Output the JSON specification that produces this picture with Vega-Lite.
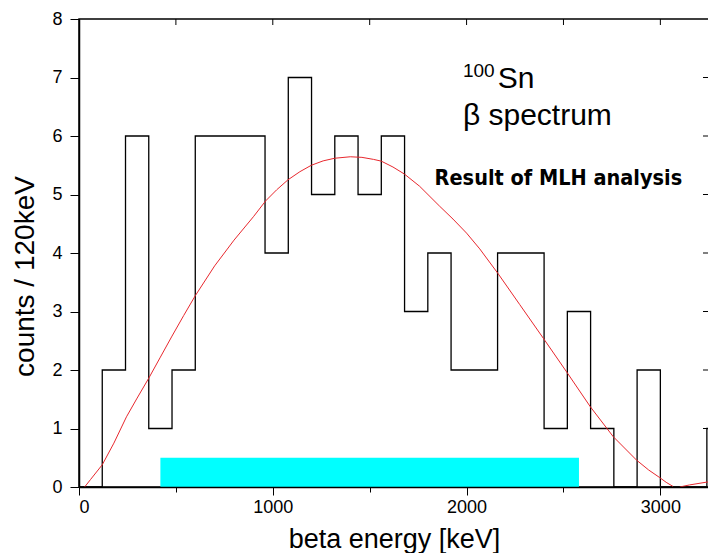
{
  "$schema": "https://vega.github.io/schema/vega-lite/v6.json",
  "width": 630,
  "height": 468,
  "autosize": {"type": "none"},
  "padding": {"left": 79, "top": 19, "right": 0, "bottom": 66},
  "background": "white",
  "config": {"view": {"stroke": "black", "strokeWidth": 1.5}, "font": "Liberation Sans"},
  "datasets": {
    "hist": [
      {"energy": 0, "counts": 0}, {"energy": 120, "counts": 2}, {"energy": 240, "counts": 6},
      {"energy": 360, "counts": 1}, {"energy": 480, "counts": 2}, {"energy": 600, "counts": 6},
      {"energy": 720, "counts": 6}, {"energy": 840, "counts": 6}, {"energy": 960, "counts": 4},
      {"energy": 1080, "counts": 7}, {"energy": 1200, "counts": 5}, {"energy": 1320, "counts": 6},
      {"energy": 1440, "counts": 5}, {"energy": 1560, "counts": 6}, {"energy": 1680, "counts": 3},
      {"energy": 1800, "counts": 4}, {"energy": 1920, "counts": 2}, {"energy": 2040, "counts": 2},
      {"energy": 2160, "counts": 4}, {"energy": 2280, "counts": 4}, {"energy": 2400, "counts": 1},
      {"energy": 2520, "counts": 3}, {"energy": 2640, "counts": 1}, {"energy": 2760, "counts": 0},
      {"energy": 2880, "counts": 2}, {"energy": 3000, "counts": 0}, {"energy": 3120, "counts": 0},
      {"energy": 3240, "counts": 1}, {"energy": 3360, "counts": 1}
    ],
    "fit": [
      {"energy": 29, "counts": 0, "seg": "a"}, {"energy": 60, "counts": 0.13, "seg": "a"},
      {"energy": 120, "counts": 0.38, "seg": "a"}, {"energy": 180, "counts": 0.75, "seg": "a"},
      {"energy": 245, "counts": 1.2, "seg": "a"}, {"energy": 300, "counts": 1.52, "seg": "a"},
      {"energy": 360, "counts": 1.86, "seg": "a"}, {"energy": 420, "counts": 2.22, "seg": "a"},
      {"energy": 480, "counts": 2.58, "seg": "a"}, {"energy": 540, "counts": 2.93, "seg": "a"},
      {"energy": 600, "counts": 3.27, "seg": "a"}, {"energy": 700, "counts": 3.78, "seg": "a"},
      {"energy": 800, "counts": 4.22, "seg": "a"}, {"energy": 900, "counts": 4.62, "seg": "a"},
      {"energy": 963, "counts": 4.89, "seg": "a"}, {"energy": 1020, "counts": 5.08, "seg": "a"},
      {"energy": 1078, "counts": 5.25, "seg": "a"}, {"energy": 1140, "counts": 5.39, "seg": "a"},
      {"energy": 1199, "counts": 5.5, "seg": "a"}, {"energy": 1260, "counts": 5.575, "seg": "a"},
      {"energy": 1320, "counts": 5.62, "seg": "a"}, {"energy": 1400, "counts": 5.645, "seg": "a"},
      {"energy": 1460, "counts": 5.635, "seg": "a"}, {"energy": 1520, "counts": 5.6, "seg": "a"},
      {"energy": 1560, "counts": 5.57, "seg": "a"}, {"energy": 1620, "counts": 5.47, "seg": "a"},
      {"energy": 1679, "counts": 5.35, "seg": "a"}, {"energy": 1758, "counts": 5.14, "seg": "a"},
      {"energy": 1861, "counts": 4.8, "seg": "a"}, {"energy": 1930, "counts": 4.58, "seg": "a"},
      {"energy": 2000, "counts": 4.34, "seg": "a"}, {"energy": 2068, "counts": 4.07, "seg": "a"},
      {"energy": 2162, "counts": 3.65, "seg": "a"}, {"energy": 2274, "counts": 3.12, "seg": "a"},
      {"energy": 2403, "counts": 2.51, "seg": "a"}, {"energy": 2520, "counts": 1.95, "seg": "a"},
      {"energy": 2639, "counts": 1.37, "seg": "a"}, {"energy": 2757, "counts": 0.86, "seg": "a"},
      {"energy": 2877, "counts": 0.46, "seg": "a"}, {"energy": 2940, "counts": 0.29, "seg": "a"},
      {"energy": 2997, "counts": 0.16, "seg": "a"}, {"energy": 3030, "counts": 0.08, "seg": "a"},
      {"energy": 3065, "counts": 0.01, "seg": "a"},
      {"energy": 3100, "counts": 0.0, "seg": "b"}, {"energy": 3150, "counts": 0.035, "seg": "b"},
      {"energy": 3251, "counts": 0.09, "seg": "b"}
    ],
    "band": [{"energy": 420, "energy_end": 2580, "counts": 0, "counts_top": 0.5}],
    "topticks": [
      {"energy": 500, "counts": 8}, {"energy": 1000, "counts": 8}, {"energy": 1500, "counts": 8},
      {"energy": 2000, "counts": 8}, {"energy": 2500, "counts": 8}, {"energy": 3000, "counts": 8}
    ],
    "rightticks": [
      {"energy": 3251, "counts": 1}, {"energy": 3251, "counts": 2}, {"energy": 3251, "counts": 3},
      {"energy": 3251, "counts": 4}, {"energy": 3251, "counts": 5}, {"energy": 3251, "counts": 6},
      {"energy": 3251, "counts": 7}
    ],
    "notes_small": [{"text": "100", "energy": 1981, "counts": 7.01}],
    "notes_big": [{"text": "Sn", "energy": 2161, "counts": 6.82}, {"text": "β spectrum", "energy": 1981, "counts": 6.19}],
    "notes_bold": [{"text": "Result of MLH analysis", "energy": 1835, "counts": 5.17}]
  },
  "encoding": {
    "x": {"field": "energy", "type": "quantitative",
          "scale": {"domain": [0, 3251], "nice": false, "zero": false},
          "axis": {"orient": "bottom", "values": [0, 500, 1000, 1500, 2000, 2500, 3000],
                   "format": "d",
                   "labelExpr": "datum.value % 1000 === 0 ? datum.label : ''",
                   "tickSize": {"condition": {"test": "datum.value % 1000 === 0", "value": 8}, "value": 5},
                   "tickColor": "black", "tickWidth": 1,
                   "domainColor": "black", "domainWidth": 1.5,
                   "labelFont": "Liberation Sans", "labelFontSize": 18, "labelColor": "black",
                   "labelPadding": 3,
                   "title": "beta energy [keV]", "titleFont": "Liberation Sans", "titleFontSize": 27,
                   "titleFontWeight": "normal", "titleColor": "black",
                   "titleY": 60, "titleBaseline": "alphabetic",
                   "grid": false, "zindex": 1}},
    "y": {"field": "counts", "type": "quantitative",
          "scale": {"domain": [0, 8], "nice": false, "zero": true},
          "axis": {"orient": "left", "values": [0, 1, 2, 3, 4, 5, 6, 7, 8],
                   "tickSize": 9, "tickColor": "black", "tickWidth": 1,
                   "domainColor": "black", "domainWidth": 1.5,
                   "labelFont": "Liberation Sans", "labelFontSize": 18, "labelColor": "black",
                   "labelPadding": 8,
                   "title": "counts / 120keV", "titleFont": "Liberation Sans", "titleFontSize": 28,
                   "titleFontWeight": "normal", "titleColor": "black",
                   "titleAngle": -90, "titleX": -46, "titleY": 257,
                   "titleBaseline": "alphabetic", "titleAlign": "center",
                   "grid": false, "zindex": 1}}
  },
  "layer": [
    {
      "data": {"name": "hist"},
      "mark": {"type": "line", "interpolate": "step-after", "color": "black", "strokeWidth": 1.3, "clip": true}
    },
    {
      "data": {"name": "fit"},
      "mark": {"type": "line", "color": "#e8282e", "strokeWidth": 1, "clip": true},
      "encoding": {"detail": {"field": "seg"}}
    },
    {
      "data": {"name": "band"},
      "mark": {"type": "rect", "color": "#00ffff"},
      "encoding": {
        "x2": {"field": "energy_end"},
        "y2": {"field": "counts_top"}
      }
    },
    {
      "data": {"name": "topticks"},
      "mark": {"type": "tick", "orient": "vertical", "size": 12, "thickness": 1, "color": "black", "opacity": 1, "clip": true}
    },
    {
      "data": {"name": "rightticks"},
      "mark": {"type": "tick", "orient": "horizontal", "size": 12, "thickness": 1, "color": "black", "opacity": 1, "clip": true}
    },
    {
      "data": {"name": "notes_small"},
      "mark": {"type": "text", "align": "left", "baseline": "alphabetic", "fontSize": 19, "font": "Liberation Sans", "color": "black"},
      "encoding": {"text": {"field": "text"}}
    },
    {
      "data": {"name": "notes_big"},
      "mark": {"type": "text", "align": "left", "baseline": "alphabetic", "fontSize": 30, "font": "Liberation Sans", "color": "black"},
      "encoding": {"text": {"field": "text"}}
    },
    {
      "data": {"name": "notes_bold"},
      "mark": {"type": "text", "align": "left", "baseline": "alphabetic", "fontSize": 21.5, "fontWeight": "bold", "font": "DejaVu Sans Condensed", "color": "black"},
      "encoding": {"text": {"field": "text"}}
    }
  ]
}
